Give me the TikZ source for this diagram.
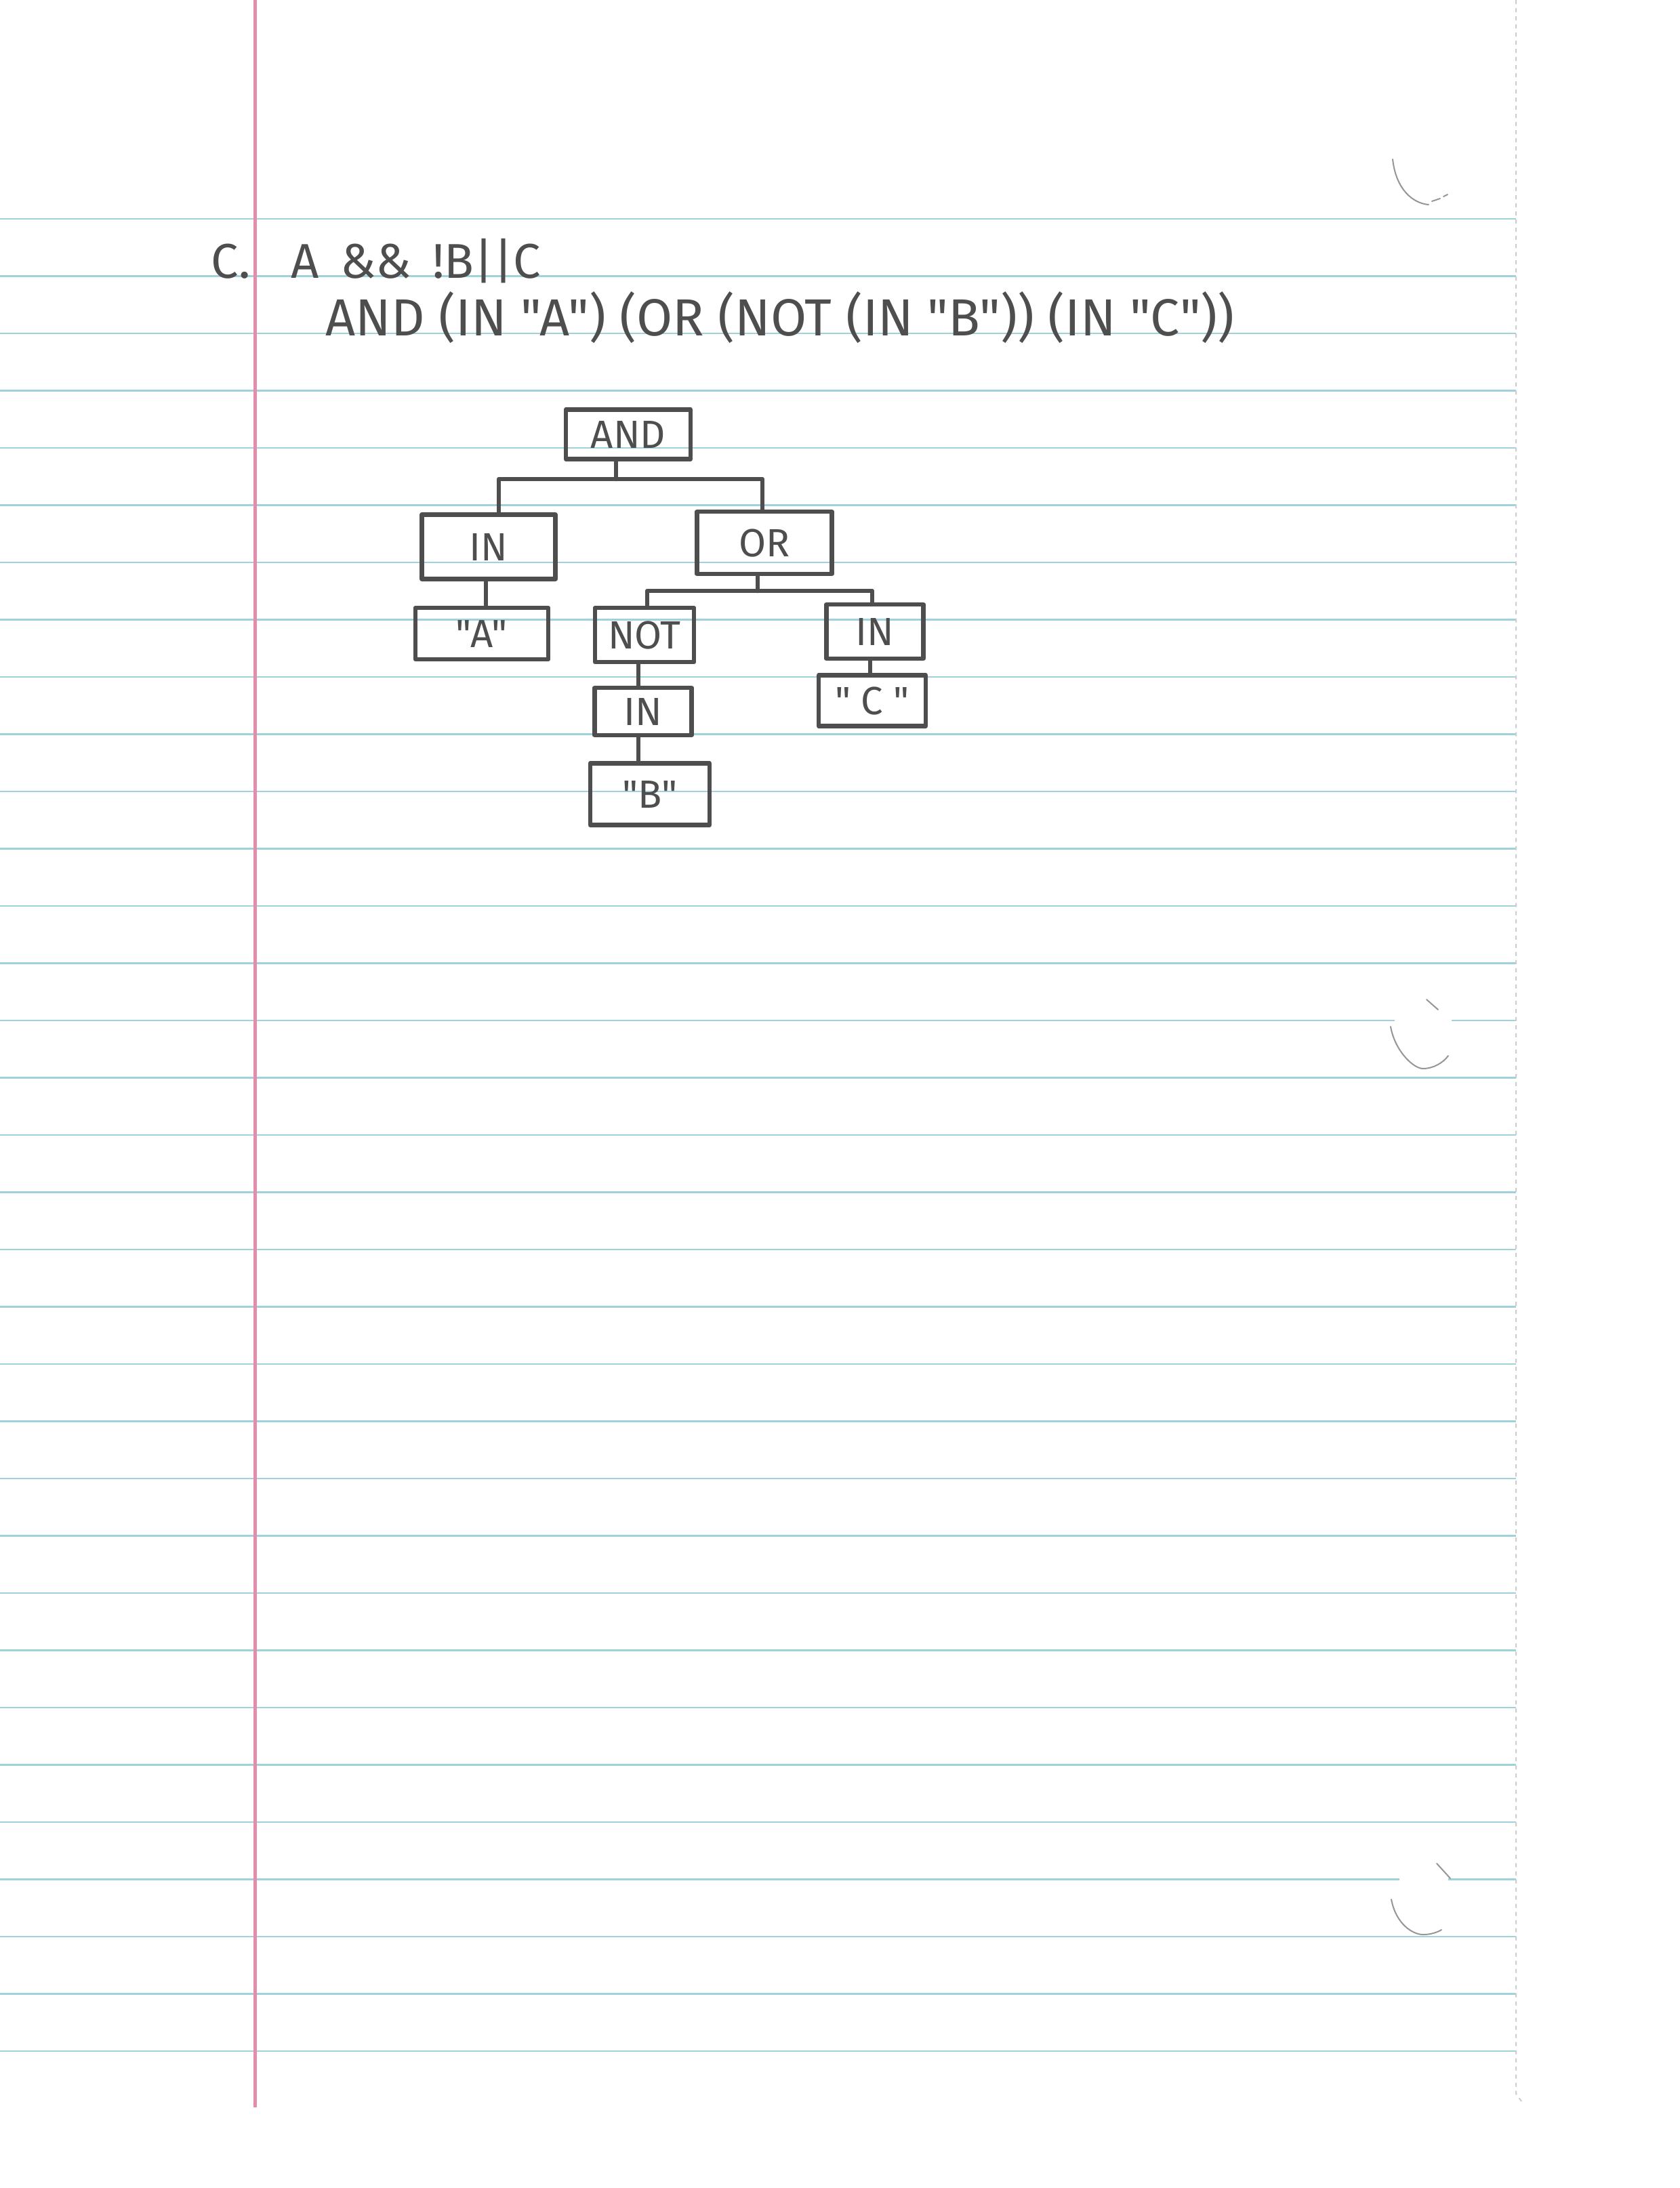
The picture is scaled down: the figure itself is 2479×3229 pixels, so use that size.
\documentclass[tikz,border=0pt]{standalone}
\usepackage{fontspec}
\setmainfont{Fira Sans}[Ligatures=TeXOff]
\newcommand{\straightquote}{\char34\relax}
\definecolor{pencil}{RGB}{78,78,78}
\definecolor{ruleblue}{RGB}{160,210,220}
\definecolor{marginred}{RGB}{228,140,170}
\definecolor{holegray}{RGB}{150,150,150}
\definecolor{edgegray}{RGB}{205,205,205}
\begin{document}
\begin{tikzpicture}[x=0.01cm,y=-0.01cm,
  pencil/.style={draw=pencil, line width=0.065cm, line cap=round, line join=round},
  treebox/.style={pencil, rectangle, inner sep=0pt, text=pencil,
    font=\fontsize{16.5}{18}\selectfont},
  handtext/.style={anchor=base west, inner sep=0pt, text=pencil},
  rule/.style={draw=ruleblue, line width=0.022cm},
  hole/.style={draw=holegray, line width=0.02cm, line cap=round}]

% page
\useasboundingbox (0,0) rectangle (2479,3229);
\fill[white] (0,0) rectangle (2479,3229);

% ruled lines (two of them are broken by the binder holes)
\foreach \k in {0,...,32}{
  \pgfmathsetmacro{\yy}{323+84.5*\k}
  \ifnum\k=14
    \draw[rule] (0,\yy) -- (2058,\yy) (2142,\yy) -- (2237,\yy);
  \else\ifnum\k=29
    \draw[rule] (0,\yy) -- (2065,\yy) (2137,\yy) -- (2237,\yy);
  \else
    \draw[rule] (0,\yy) -- (2237,\yy);
  \fi\fi
}

% margin line
\draw[draw=marginred, line width=0.05cm] (376,0) -- (376,3110);

% torn paper edge
\draw[draw=edgegray, line width=0.02cm, dash pattern=on 0.06cm off 0.06cm] (2237,0) -- (2237,3090) -- (2248,3105);

% binder hole remnants
\draw[hole] (2055,235) .. controls (2060,280) and (2085,300) .. (2108,302);
\draw[hole] (2113,297) -- (2125,293) (2130,290) -- (2136,287);
\draw[hole] (2052,1515) .. controls (2058,1550) and (2085,1577) .. (2100,1577)
  .. controls (2115,1577) and (2130,1568) .. (2137,1558);
\draw[hole] (2105,1475) -- (2122,1490);
\draw[hole] (2053,2803) .. controls (2060,2840) and (2085,2855) .. (2100,2855)
  .. controls (2112,2855) and (2122,2851) .. (2127,2848);
\draw[hole] (2120,2750) -- (2140,2772);

% heading and prefix expression
\node[handtext, font=\fontsize{20.5}{22}\selectfont] (label) at (311,410) {C.};
\node[handtext, font=\fontsize{20.5}{22}\selectfont] (infix) at (429,410) {A \,\&\& \,!B||C};
\node[handtext, font=\fontsize{21.9}{24}\selectfont] (prefix) at (480,495)
  {AND (IN \straightquote A\straightquote) (OR (NOT (IN \straightquote B\straightquote)) (IN \straightquote C\straightquote))};

% expression tree
\node[treebox, minimum width=1.84cm, minimum height=0.73cm] (and) at (927,641) {AND};
\node[treebox, minimum width=1.97cm, minimum height=0.95cm] (inA) at (721,807) {IN};
\node[treebox, minimum width=1.99cm, minimum height=0.92cm] (or) at (1128,801) {OR};
\node[treebox, minimum width=1.96cm, minimum height=0.76cm] (qa) at (711,935) {\straightquote A\straightquote};
\node[treebox, minimum width=1.46cm, minimum height=0.80cm] (not) at (951,937) {NOT};
\node[treebox, minimum width=1.43cm, minimum height=0.80cm] (inC) at (1291,932) {IN};
\node[treebox, minimum width=1.58cm, minimum height=0.75cm] (qc) at (1287,1034) {\straightquote\ C \straightquote};
\node[treebox, minimum width=1.43cm, minimum height=0.70cm] (inB) at (949,1050) {IN};
\node[treebox, minimum width=1.76cm, minimum height=0.91cm] (qb) at (959,1172) {\straightquote B\straightquote};

% connectors
\coordinate (andJ) at (909,707);
\coordinate (andL) at (736,707);
\coordinate (andR) at (1125,707);
\draw[pencil] (and.south -| andJ) -- (andJ);
\draw[pencil] (inA.north -| andL) -- (andL) -- (andR) -- (or.north -| andR);

\coordinate (orJ) at (1118,872);
\coordinate (orL) at (955,872);
\coordinate (orR) at (1287,872);
\draw[pencil] (or.south -| orJ) -- (orJ);
\draw[pencil] (not.north -| orL) -- (orL) -- (orR) -- (inC.north -| orR);

\coordinate (aX) at (717,0);
\coordinate (bX) at (942,0);
\coordinate (cX) at (1284,0);
\draw[pencil] (inA.south -| aX) -- (qa.north -| aX);
\draw[pencil] (not.south -| bX) -- (inB.north -| bX);
\draw[pencil] (inB.south -| bX) -- (qb.north -| bX);
\draw[pencil] (inC.south -| cX) -- (qc.north -| cX);
\end{tikzpicture}
\end{document}
